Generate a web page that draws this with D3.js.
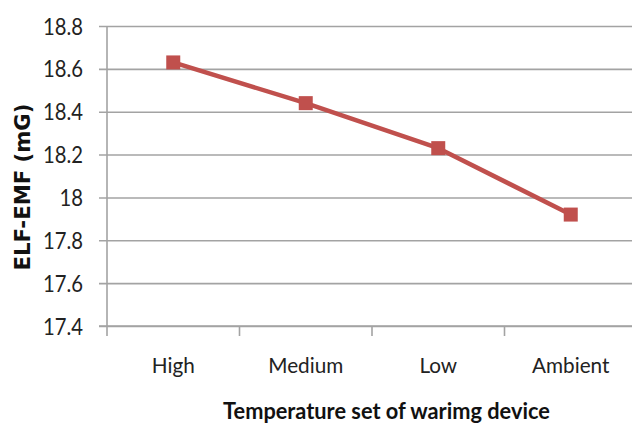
<!DOCTYPE html>
<html><head><meta charset="utf-8">
<script src="https://cdn.jsdelivr.net/npm/d3@7"></script>
<style>
html,body{margin:0;padding:0;background:#fff;}
svg{display:block;}
</style></head>
<body>
<svg id="c" width="632" height="423"></svg>
<script>
const categories = ["High", "Medium", "Low", "Ambient"];
const values = [18.63, 18.44, 18.23, 17.92];
const yTicks = [17.4, 17.6, 17.8, 18, 18.2, 18.4, 18.6, 18.8];
const xTitle = "Temperature set of warimg device";
const yTitle = "ELF-EMF (mG)";

(function(){
const svg = d3.select("#c");
const pL = 107, pR = 637, pT = 26, pB = 326;
const font = "Lato, 'Open Sans', sans-serif";
const red = "#C0504D";
const grid = "#a3a3a3";

const x = d3.scaleBand().domain(categories).range([pL, pR]).padding(0);
const y = d3.scaleLinear().domain([17.4, 18.8]).range([pB, pT]);

function width(sel){ return sel.node().getComputedTextLength(); }

// gridlines + y tick marks
const yAxis = d3.axisLeft(y).tickValues(yTicks)
  .tickSize(-(pR - pL)).tickSizeOuter(0)
  .tickFormat(d3.format("~g"));
const gy = svg.append("g").attr("transform", `translate(${pL},0)`).call(yAxis);
gy.select(".domain").remove();
gy.selectAll(".tick line").attr("x1", -8).attr("stroke", grid).attr("stroke-width", 1.6);
const yt = gy.selectAll(".tick text").attr("font-family", font).attr("font-size", 23)
  .attr("fill", "#222").attr("dy", "0.35em");
const topLabel = yt.filter(d => d === 18.8);
const sy = 40 / width(topLabel);
yt.attr("x", -24 / sy).attr("transform", `scale(${sy},1)`);

// y axis line
svg.append("line").attr("x1", pL).attr("x2", pL).attr("y1", pT).attr("y2", pB + 10)
  .attr("stroke", grid).attr("stroke-width", 1.6);

// x axis
const xAxis = d3.axisBottom(x).tickSize(0);
const gx = svg.append("g").attr("transform", `translate(0,${pB})`).call(xAxis);
gx.select(".domain").remove();
const xt = gx.selectAll(".tick text").attr("font-family", font).attr("font-size", 22)
  .attr("fill", "#222").attr("y", 47).attr("dy", 0);
const sx = 75 / width(xt.filter(d => d === "Medium"));
xt.attr("transform", `scale(${sx},1)`);
svg.append("line").attr("x1", pL - 8).attr("x2", 632).attr("y1", pB).attr("y2", pB)
  .attr("stroke", grid).attr("stroke-width", 1.6);
// category boundary ticks
svg.selectAll("line.ct").data(categories.slice(1)).enter().append("line")
  .attr("x1", d => x(d)).attr("x2", d => x(d)).attr("y1", pB).attr("y2", pB + 10)
  .attr("stroke", grid).attr("stroke-width", 1.6);

// line
const pts = categories.map((c, i) => [x(c) + x.bandwidth() / 2, y(values[i])]);
svg.append("path").attr("d", d3.line()(pts)).attr("fill", "none")
  .attr("stroke", red).attr("stroke-width", 4.5).attr("stroke-linejoin", "round");
svg.selectAll("rect.m").data(pts).enter().append("rect")
  .attr("x", d => d[0] - 7).attr("y", d => d[1] - 7).attr("width", 14).attr("height", 14)
  .attr("fill", red);

// titles
const xtg = svg.append("g").attr("transform", "translate(386.5,419)");
const xtt = xtg.append("text").attr("text-anchor", "middle")
  .attr("font-family", font).attr("font-weight", "bold").attr("font-size", 22).attr("fill", "#111")
  .text(xTitle);
xtt.attr("transform", `scale(${327 / width(xtt)},1)`);

const ytg = svg.append("g").attr("transform", "translate(30,187) rotate(-90)");
const ytt = ytg.append("text").attr("text-anchor", "middle")
  .attr("font-family", "'DejaVu Sans', sans-serif").attr("font-weight", "bold").attr("font-size", 22).attr("fill", "#111")
  .text(yTitle);
ytt.attr("transform", `scale(${167 / width(ytt)},1)`);
})();
</script>
</body></html>
